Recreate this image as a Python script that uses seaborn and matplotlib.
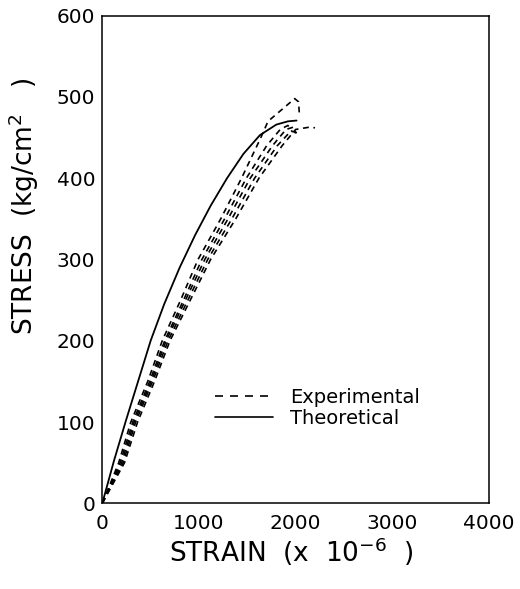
import pandas as pd
import matplotlib.pyplot as plt
import seaborn as sns
from matplotlib.lines import Line2D
from matplotlib.ticker import MultipleLocator

# Theoretical curve
theo_strain = [0, 120, 245, 370, 500, 640, 800, 960, 1120, 1290, 1460, 1630, 1800, 1920, 2010]
theo_stress = [0, 52, 102, 150, 200, 245, 290, 330, 366, 400, 430, 453, 466, 470, 471]

# Experimental curves (left to right)
exp1_strain = [0, 170, 295, 470, 620, 810, 990, 1225, 1440, 1640, 1714, 1872, 1990, 2030, 2040]
exp1_stress = [0, 50, 100, 150, 200, 250, 300, 350, 400, 450, 470, 486, 498, 494, 476]
exp2_strain = [0, 185, 315, 490, 645, 840, 1030, 1265, 1490, 1700, 1840, 1920, 1960]
exp2_stress = [0, 50, 100, 150, 200, 250, 300, 350, 400, 440, 460, 465, 458]
exp3_strain = [0, 200, 330, 505, 660, 860, 1060, 1300, 1530, 1760, 1900, 1980, 2000]
exp3_stress = [0, 50, 100, 150, 200, 250, 300, 350, 400, 440, 460, 463, 455]
exp4_strain = [0, 215, 345, 520, 680, 885, 1090, 1340, 1575, 1810, 1950, 2050]
exp4_stress = [0, 50, 100, 150, 200, 250, 300, 350, 400, 440, 458, 455]
exp5_strain = [0, 230, 365, 540, 700, 910, 1120, 1380, 1620, 1860, 2000, 2150, 2200]
exp5_stress = [0, 50, 100, 150, 200, 250, 300, 350, 400, 440, 460, 463, 462]

experiments = [
    (exp1_strain, exp1_stress),
    (exp2_strain, exp2_stress),
    (exp3_strain, exp3_stress),
    (exp4_strain, exp4_stress),
    (exp5_strain, exp5_stress),
]

sns.set_style("white")
plt.rcParams['font.family'] = ['DejaVu Sans']
plt.rcParams['text.color'] = 'black'
plt.rcParams['axes.labelcolor'] = 'black'
plt.rcParams['xtick.color'] = 'black'
plt.rcParams['ytick.color'] = 'black'

fig = plt.figure(figsize=(5.2, 5.89), dpi=100)
ax = fig.add_axes([102.3 / 520, 1 - 503.3 / 589, 386.7 / 520, 487.6 / 589])

# dashed experimental curves
for xs, ys in experiments:
    df_exp = pd.DataFrame({'strain': xs, 'stress': ys})
    sns.lineplot(data=df_exp, x='strain', y='stress', ax=ax, color='black',
                 linewidth=1.2, sort=False, estimator=None, legend=False)
    ax.lines[-1].set_dashes((3.5, 2.8))

# solid theoretical curve
df_theo = pd.DataFrame({'strain': theo_strain, 'stress': theo_stress})
sns.lineplot(data=df_theo, x='strain', y='stress', ax=ax, color='black',
             linewidth=1.3, sort=False, estimator=None, legend=False)

ax.set_xlim(0, 4000)
ax.set_ylim(0, 600)
ax.xaxis.set_major_locator(MultipleLocator(1000))
ax.xaxis.set_minor_locator(MultipleLocator(500))
ax.yaxis.set_major_locator(MultipleLocator(100))
ax.yaxis.set_minor_locator(MultipleLocator(50))
ax.tick_params(which='both', direction='in', length=6, width=1, color='black',
               top=False, right=False)
ax.tick_params(which='major', labelsize=14.5)
ax.tick_params(axis='x', which='major', pad=8)
ax.tick_params(axis='y', which='major', pad=5)
for s in ax.spines.values():
    s.set_color('black')
    s.set_linewidth(1.1)

ax.set_xlabel(r"STRAIN  (x  10$^{-6}$  )", fontsize=19)
ax.set_ylabel(r"STRESS  (kg/cm$^{2}$   )", fontsize=19)
ax.xaxis.set_label_coords(0.49, -0.066)
ax.yaxis.set_label_coords(-0.158, 0.61)

handles = [
    Line2D([], [], color='black', linewidth=1.2, dashes=(4.8, 4.2)),
    Line2D([], [], color='black', linewidth=1.2),
]
ax.legend(handles, ['Experimental', 'Theoretical'], frameon=False,
          loc='center left', bbox_to_anchor=(0.245, 0.196), fontsize=14,
          handlelength=3.0, handletextpad=0.9, labelspacing=0.1)

fig.savefig("out.png", dpi=100)
